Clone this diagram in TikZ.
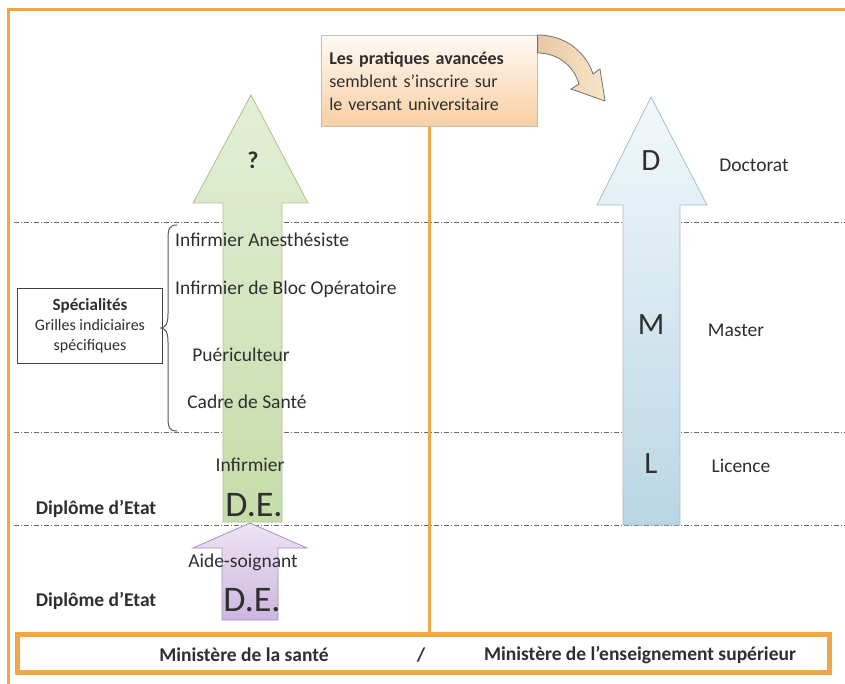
\documentclass[tikz,border=0pt]{standalone}
\usepackage{fontspec}
\setmainfont{Carlito}
\definecolor{frameor}{HTML}{F2A744}
\definecolor{txt}{HTML}{2F2F2F}
\definecolor{dashc}{HTML}{6A6A6A}
\definecolor{greenA}{HTML}{E3EFD6}
\definecolor{greenB}{HTML}{C6DCAA}
\definecolor{greenE}{HTML}{A9C48C}
\definecolor{blueA}{HTML}{F2F8FB}
\definecolor{blueB}{HTML}{B9D6E4}
\definecolor{blueE}{HTML}{A3BFCF}
\definecolor{purpA}{HTML}{EEE4F4}
\definecolor{purpB}{HTML}{CDB6DF}
\definecolor{purpE}{HTML}{A88FBF}
\definecolor{peachA}{HTML}{FFFAF4}
\definecolor{peachB}{HTML}{F8CFA2}
\definecolor{curvA}{HTML}{E8C7A4}
\definecolor{curvB}{HTML}{F8E6C8}
\begin{document}
\begin{tikzpicture}[x=1pt,y=-1pt,
  every node/.style={text=txt, inner sep=0pt},
  lbl/.style={font=\fontsize{19.5}{22}\selectfont},
  bold lbl/.style={font=\fontsize{19.5}{22}\selectfont\bfseries},
  big/.style={font=\fontsize{36}{38}\selectfont},
  letter/.style={font=\fontsize{31}{34}\selectfont},
  dashline/.style={dashc, line width=0.8pt, dash pattern=on 5pt off 2pt on 1pt off 2pt},
  garrow/.style={draw=greenE, line width=0.8pt, top color=greenA, bottom color=greenB},
  barrow/.style={draw=blueE, line width=0.8pt, top color=blueA, bottom color=blueB},
  parrow/.style={draw=purpE, line width=0.8pt, top color=purpA, bottom color=purpB},
  orline/.style={frameor, line width=2.6pt},
]
\useasboundingbox (0,0) rectangle (845,684);
\fill[white] (0,0) rectangle (845,684);

% outer frame
\draw[orline, line width=3pt] (8,684) -- (8,10) -- (845,10);

% dashed level lines
\draw[dashline] (14,222) -- (845,222);
\draw[dashline] (14,432) -- (845,432);
\draw[dashline] (14,525) -- (845,525);

% green arrow
\draw[garrow] (223,522) -- (223,203) -- (193,203) -- (251,95) -- (308,203) -- (282,203) -- (282,522) -- cycle;
% purple arrow
\draw[parrow] (222,620) -- (222,548) -- (193,548) -- (250,523) -- (307,548) -- (278,548) -- (278,620) -- cycle;
% blue arrow
\draw[barrow] (623,525) -- (623,205) -- (597,205) -- (651,97) -- (707,205) -- (680,205) -- (680,525) -- cycle;

% callout box
\node[draw=black!25, line width=0.6pt, top color=peachA, bottom color=peachB,
      minimum width=216pt, minimum height=91pt, anchor=north west,
      align=left, text width=200pt, inner xsep=8pt,
      font=\fontsize{18}{23}\selectfont] (callout) at (321,35)
  {\textbf{Les pratiques avancées}\\semblent s'inscrire sur\\le versant universitaire};

% curved arrow
\draw[black!55, line width=0.8pt, left color=curvA, right color=curvB]
  (callout.north east) .. controls (565,35) and (586,52) .. (593,74)
  -- (600,69) -- (605,101) -- (571,89) -- (579,84)
  .. controls (573,64) and (556,53) .. (callout.north east |- 0,53) -- cycle;

% bottom ministry box
\node[draw=frameor, line width=5pt, fill=white, minimum width=812pt, minimum height=38pt] (mbox) at (423,653.5) {};
\node[bold lbl] (sante) at (244,655) {Ministère de la santé};
\node[bold lbl] (slash) at (421,655) {/};
\node[bold lbl] (sup) at (640,655) {Ministère de l'enseignement supérieur};

% vertical separator
\draw[orline] (callout.south) -- (callout.south |- mbox.north);

% left labels
\node[bold lbl] (de1) at (96,509) {Diplôme d'Etat};
\node[bold lbl] (de2) at (96,601) {Diplôme d'Etat};

% green arrow labels
\node[font=\fontsize{24}{26}\selectfont\bfseries] (q) at (253,160) {?};
\node[lbl, anchor=west] (ia) at (175,240) {Infirmier Anesthésiste};
\node[lbl, anchor=west] (ibo) at (175,289) {Infirmier de Bloc Opératoire};
\node[lbl] (pu) at (241,355) {Puériculteur};
\node[lbl] (cs) at (247,402) {Cadre de Santé};
\node[lbl] (inf) at (250,465) {Infirmier};
\node[big] (de3) at (254,505) {D.E.};
\node[lbl] (as) at (243,562) {Aide-soignant};
\node[big] (de4) at (252,600) {D.E.};

% brace and specialities box
\draw[txt!80, line width=1pt] (177,225) .. controls (169,225) and (168,229) .. (168,240)
  -- (168,314) .. controls (168,324) and (166,327) .. (161,328)
  .. controls (166,329) and (168,332) .. (168,342)
  -- (168,418) .. controls (168,428) and (170,431) .. (177,431);
\node[draw=txt!90, line width=1pt, minimum width=145pt, minimum height=75pt,
      align=center, font=\fontsize{16}{20}\selectfont] (spec) at (90,326)
  {{\fontsize{17}{20}\selectfont\bfseries Spécialités}\\Grilles indiciaires\\spécifiques};

% blue arrow labels
\node[letter] (d) at (651,161) {D};
\node[letter] (m) at (651,325) {M};
\node[letter] (l) at (651,464) {L};
\node[lbl] (doc) at (754,165) {Doctorat};
\node[lbl] (mas) at (736,330) {Master};
\node[lbl] (lic) at (741,466) {Licence};
\end{tikzpicture}
\end{document}
